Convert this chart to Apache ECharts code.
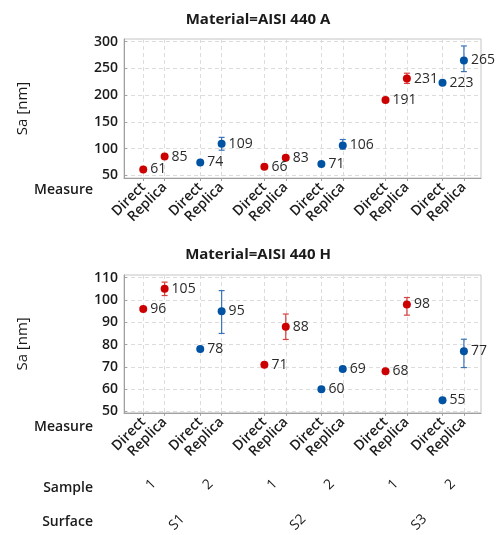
<!DOCTYPE html>
<html>
<head>
<meta charset="utf-8">
<script src="https://cdn.jsdelivr.net/npm/echarts@6/dist/echarts.min.js"></script>
<style>
  html, body { margin: 0; padding: 0; background: #fff; }
  #chart { width: 501px; height: 535px; }
</style>
</head>
<body>
<div id="chart"></div>
<script>
// categories
const measures = ["Direct", "Replica"];
const samples = ["1", "2"];
const surfaces = ["S1", "S2", "S3"];

// Material = AISI 440 A (order: S1-1 D/R, S1-2 D/R, S2-1 ..., S3-2 D/R)
const meanA = [61, 85, 74, 109, 66, 83, 71, 106, 191, 231, 223, 265];
const lowA  = [null, 82, null, 97, null, 80, null, 99, null, 222, null, 244];
const highA = [null, 88, null, 121, null, 86, null, 117, null, 241, null, 292];

// Material = AISI 440 H
const meanH = [96, 105, 78, 95, 71, 88, 60, 69, 68, 98, 55, 77];
const lowH  = [null, 102, null, 85, null, 82.3, null, 68, null, 93.2, null, 69.7];
const highH = [null, 108, null, 104.2, null, 93.7, null, 70, null, 101.1, null, 82.4];

// tick labels
const yTicksA = [50, 100, 150, 200, 250, 300];
const yTicksH = [50, 60, 70, 80, 90, 100, 110];

const FONT = "Open Sans";
const RED = "#cc0000", BLUE = "#0052a3";
const RED_BAR = "#d84040", BLUE_BAR = "#3a74b8";

// x layout: pairs of measures, gap between samples, bigger gap between surfaces
const GAP_PAIR = 3, GAP_SAMPLE = 5, GAP_SURFACE = 6;
const xPos = [];
const nPts = surfaces.length * samples.length * measures.length;
let cur = 0;
for (let i = 0; i < nPts; i++) {
    if (i > 0) cur += i % 4 === 0 ? GAP_SURFACE : (i % 2 === 0 ? GAP_SAMPLE : GAP_PAIR);
    xPos.push(cur);
}
const xMin = -2.7, xMax = 47.4;
const sampleCenters = [], surfaceCenters = [];
for (let i = 0; i < nPts; i += 2) sampleCenters.push((xPos[i] + xPos[i + 1]) / 2);
for (let i = 0; i < nPts; i += 4) surfaceCenters.push((xPos[i] + xPos[i + 3]) / 2);

const labelOf = (arr, list) => (v) => {
    const i = arr.findIndex((p) => Math.abs(p - v) < 1e-6);
    return i < 0 ? "" : list(i);
};

const grids = [
    { left: 124, right: 20, top: 39, height: 139 },
    { left: 124, right: 20, top: 275, height: 139 },
];

function measureAxis(gridIndex) {
    return {
        type: "value", gridIndex, min: xMin, max: xMax, position: "bottom",
        axisLine: { show: true, onZero: false, lineStyle: { color: "#a0a0a0" } },
        axisTick: { show: true, length: 3, customValues: xPos, lineStyle: { color: "#a0a0a0" } },
        axisLabel: {
            customValues: xPos,
            formatter: labelOf(xPos, (i) => measures[i % 2]),
            rotate: 45, margin: 7, fontSize: 14, fontWeight: 600,
            color: "#1a1a1a", fontFamily: FONT,
        },
        splitLine: { show: true, lineStyle: { color: "#dcdcdc", type: [4, 3] } },
    };
}

function extraAxis(gridIndex, values, fmt, offset) {
    return {
        type: "value", gridIndex, min: xMin, max: xMax, offset, position: "bottom",
        axisLine: { show: false, onZero: false }, axisTick: { show: false }, splitLine: { show: false },
        axisLabel: {
            customValues: values, formatter: labelOf(values, fmt),
            rotate: 45, margin: 4, fontSize: 14, color: "#1a1a1a", fontFamily: FONT,
        },
    };
}

function valueAxis(gridIndex, min, max, ticks) {
    return {
        type: "value", gridIndex, min, max, position: "left",
        name: "Sa [nm]", nameLocation: "middle", nameGap: 94,
        nameTextStyle: { fontSize: 15, color: "#1a1a1a", fontFamily: FONT },
        axisLine: { show: true, onZero: false, lineStyle: { color: "#a0a0a0" } },
        axisTick: { show: true, inside: true, length: 3, customValues: ticks, lineStyle: { color: "#a0a0a0" } },
        axisLabel: { customValues: ticks, fontSize: 14, fontWeight: 600, color: "#1a1a1a", fontFamily: FONT, margin: 6 },
        splitLine: { show: true, lineStyle: { color: "#dcdcdc", type: [4, 3] } },
    };
}

const pointColor = (i) => (Math.floor(i / 2) % 2 === 0 ? RED : BLUE);
const barColor = (i) => (Math.floor(i / 2) % 2 === 0 ? RED_BAR : BLUE_BAR);

function pointSeries(idx, means) {
    return {
        type: "scatter", xAxisIndex: idx, yAxisIndex: idx, z: 3,
        symbolSize: 8,
        data: means.map((v, i) => ({ value: [xPos[i], v], itemStyle: { color: pointColor(i), opacity: 1 } })),
        label: {
            show: true, position: "right", distance: 3,
            formatter: (p) => p.value[1], fontSize: 14, color: "#2a2a2a", fontFamily: FONT,
        },
    };
}

function errorSeries(idx, low, high) {
    const data = [];
    low.forEach((l, i) => {
        if (l != null) data.push({ value: [xPos[i], l, high[i]], color: barColor(i) });
    });
    return {
        type: "custom", xAxisIndex: idx, yAxisIndex: idx, z: 2,
        data,
        renderItem: (params, api) => {
            const x = api.value(0);
            const a = api.coord([x, api.value(1)]);
            const b = api.coord([x, api.value(2)]);
            const color = data[params.dataIndex].color;
            const w = 3;
            return {
                type: "group",
                children: [
                    { type: "line", shape: { x1: a[0], y1: a[1], x2: b[0], y2: b[1] }, style: { stroke: color, lineWidth: 1.2 } },
                    { type: "line", shape: { x1: a[0] - w, y1: a[1], x2: a[0] + w, y2: a[1] }, style: { stroke: color, lineWidth: 1.2 } },
                    { type: "line", shape: { x1: b[0] - w, y1: b[1], x2: b[0] + w, y2: b[1] }, style: { stroke: color, lineWidth: 1.2 } },
                ],
            };
        },
    };
}

const rowHeader = (text, y) => ({
    type: "text", x: 93, y,
    style: { text, align: "right", verticalAlign: "middle",
        fontSize: 14, fontWeight: 600, fill: "#1a1a1a", fontFamily: FONT },
});

const chart = echarts.init(document.getElementById("chart"));
chart.setOption({
    animation: false,
    title: [
        { text: "Material=AISI 440 A", left: 253, top: 7, textAlign: "center",
          textStyle: { fontSize: 15, fontWeight: "bold", color: "#1a1a1a", fontFamily: FONT } },
        { text: "Material=AISI 440 H", left: 253, top: 242, textAlign: "center",
          textStyle: { fontSize: 15, fontWeight: "bold", color: "#1a1a1a", fontFamily: FONT } },
    ],
    grid: grids.map((g) => Object.assign({ show: true, borderColor: "#c4c4c4", borderWidth: 1 }, g)),
    xAxis: [
        measureAxis(0),
        measureAxis(1),
        extraAxis(1, sampleCenters, (i) => samples[i % 2], 65),
        extraAxis(1, surfaceCenters, (i) => surfaces[i], 100),
    ],
    yAxis: [
        valueAxis(0, 45, 305, yTicksA),
        valueAxis(1, 49.4, 111.2, yTicksH),
    ],
    graphic: [
        rowHeader("Measure", 190),
        rowHeader("Measure", 427),
        rowHeader("Sample", 488),
        rowHeader("Surface", 522),
    ],
    series: [
        errorSeries(0, lowA, highA),
        pointSeries(0, meanA),
        errorSeries(1, lowH, highH),
        pointSeries(1, meanH),
    ],
});
</script>
</body>
</html>
